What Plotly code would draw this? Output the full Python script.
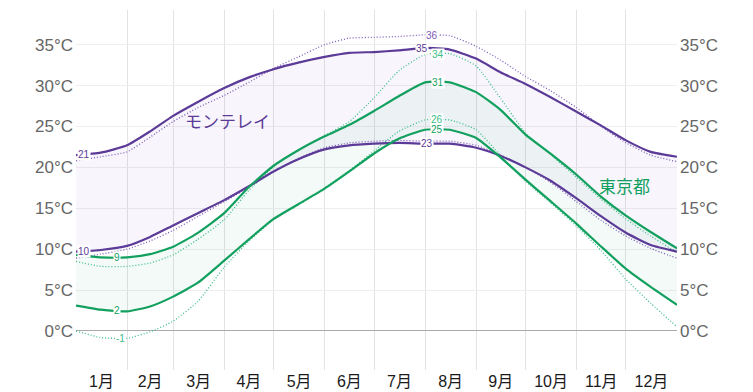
import numpy as np
import plotly.graph_objects as go

# day-of-year sample points
days = [0, 15, 31, 45, 59, 74, 90, 105, 120, 135, 151, 166, 181, 196, 212, 227, 243, 258, 273, 288, 304, 319, 334, 349, 365]

# Monterrey (モンテレイ)
mty_high = [21.5, 21.8, 22.7, 24.4, 26.3, 28.0, 29.7, 31.0, 32.0, 32.8, 33.5, 34.0, 34.1, 34.3, 34.6, 34.4, 33.3, 31.6, 30.2, 28.6, 26.8, 25.1, 23.3, 21.9, 21.3]
mty_low = [9.7, 9.9, 10.4, 11.5, 12.9, 14.4, 16.0, 17.7, 19.5, 21.0, 22.2, 22.7, 22.9, 23.0, 22.9, 22.9, 22.4, 21.4, 20.0, 18.4, 16.2, 14.0, 12.0, 10.5, 9.7]
mty_feel_high = [20.8, 21.3, 21.9, 23.7, 25.6, 27.3, 28.8, 30.4, 32.1, 33.5, 35.0, 35.8, 35.9, 36.0, 36.2, 36.1, 34.8, 33.1, 31.1, 29.4, 27.3, 25.0, 23.0, 21.5, 20.7]
mty_feel_low = [8.9, 9.4, 10.0, 11.0, 12.3, 14.0, 15.8, 17.6, 19.5, 21.1, 22.4, 23.0, 23.2, 23.3, 23.2, 23.2, 22.7, 21.5, 20.0, 18.2, 15.8, 13.5, 11.6, 10.1, 8.9]

# Tokyo (東京都)
tky_high = [9.3, 9.0, 9.0, 9.4, 10.3, 12.0, 14.4, 17.6, 20.2, 22.1, 23.8, 25.2, 26.9, 28.7, 30.4, 30.4, 29.2, 27.0, 24.0, 21.7, 19.1, 16.4, 14.1, 12.1, 10.1]
tky_low = [3.1, 2.6, 2.4, 3.0, 4.2, 5.9, 8.6, 11.2, 13.7, 15.5, 17.4, 19.5, 21.7, 23.5, 24.6, 24.6, 23.6, 21.2, 18.5, 15.9, 13.1, 10.3, 7.6, 5.4, 3.2]
tky_feel_high = [8.5, 7.9, 7.9, 8.3, 9.3, 11.2, 13.6, 17.2, 20.1, 22.1, 23.9, 25.6, 28.5, 31.8, 33.8, 33.9, 32.4, 28.4, 24.2, 21.6, 18.8, 16.1, 13.7, 11.6, 9.6]
tky_feel_low = [0.0, -0.8, -0.9, -0.1, 1.2, 3.6, 7.8, 11.0, 13.6, 15.4, 17.5, 19.6, 22.0, 24.4, 25.8, 25.8, 24.6, 21.4, 18.3, 15.7, 12.8, 9.8, 6.3, 3.4, 0.5]

month_labels = ["1月", "2月", "3月", "4月", "5月", "6月", "7月", "8月", "9月", "10月", "11月", "12月"]
month_starts = [0, 31, 59, 90, 120, 151, 181, 212, 243, 273, 304, 334, 365]
y_ticks = [0, 5, 10, 15, 20, 25, 30, 35]

# value labels: (series, day, text)
label_days_texts = [
    ("mty_high", 5, "21"), ("mty_low", 5, "10"),
    ("tky_high", 25, "9"), ("tky_low", 25, "2"), ("tky_feel_low", 27, "-1"),
    ("mty_feel_high", 216, "36"), ("mty_high", 210, "35"), ("tky_feel_high", 220, "34"),
    ("tky_high", 220, "31"), ("tky_feel_low", 219, "26"), ("tky_low", 219, "25"),
    ("mty_low", 213, "23"),
]

PURPLE = "#5c3a98"
PURPLE_LIGHT = "#7d5bb8"
GREEN = "#12a05f"
GREEN_LIGHT = "#3cbf86"

series = {
    "mty_high": mty_high, "mty_low": mty_low,
    "mty_feel_high": mty_feel_high, "mty_feel_low": mty_feel_low,
    "tky_high": tky_high, "tky_low": tky_low,
    "tky_feel_high": tky_feel_high, "tky_feel_low": tky_feel_low,
}
colors = {
    "mty_high": PURPLE, "mty_low": PURPLE, "mty_feel_high": PURPLE_LIGHT, "mty_feel_low": PURPLE_LIGHT,
    "tky_high": GREEN, "tky_low": GREEN, "tky_feel_high": GREEN_LIGHT, "tky_feel_low": GREEN_LIGHT,
}

fig = go.Figure()
sm = 0.5
# fills
fig.add_trace(go.Scatter(x=days, y=mty_low, mode="lines", line=dict(width=0, shape="spline", smoothing=sm),
                         hoverinfo="skip", showlegend=False))
fig.add_trace(go.Scatter(x=days, y=mty_high, mode="lines", line=dict(width=0, shape="spline", smoothing=sm),
                         fill="tonexty", fillcolor="rgba(120,80,200,0.05)", hoverinfo="skip", showlegend=False))
fig.add_trace(go.Scatter(x=days, y=tky_low, mode="lines", line=dict(width=0, shape="spline", smoothing=sm),
                         hoverinfo="skip", showlegend=False))
fig.add_trace(go.Scatter(x=days, y=tky_high, mode="lines", line=dict(width=0, shape="spline", smoothing=sm),
                         fill="tonexty", fillcolor="rgba(20,160,100,0.05)", hoverinfo="skip", showlegend=False))

# dotted lines
for k in ["mty_feel_high", "mty_feel_low", "tky_feel_high", "tky_feel_low"]:
    fig.add_trace(go.Scatter(x=days, y=series[k], mode="lines",
                             line=dict(color=colors[k], width=1.3, dash="1px,2px", shape="spline", smoothing=sm),
                             hoverinfo="skip", showlegend=False))
# solid lines
for k in ["mty_low", "mty_high", "tky_low", "tky_high"]:
    fig.add_trace(go.Scatter(x=days, y=series[k], mode="lines",
                             line=dict(color=colors[k], width=2.2, shape="spline", smoothing=sm),
                             hoverinfo="skip", showlegend=False))

# invisible trace for right axis
fig.add_trace(go.Scatter(x=[days[0]], y=[mty_low[0]], yaxis="y2", mode="markers", marker=dict(opacity=0),
                         hoverinfo="skip", showlegend=False))

annotations = []
for k, d, t in label_days_texts:
    yv = float(np.interp(d, days, series[k]))
    annotations.append(dict(x=d, y=yv, xref="x", yref="y", text=t, showarrow=False,
                            font=dict(size=10, color=colors[k], family="Liberation Sans, Arial, sans-serif"),
                            bgcolor="white", borderpad=0, xanchor="center", yanchor="middle"))

annotations.append(dict(x=92, y=25.7, xref="x", yref="y", text="モンテレイ", showarrow=False,
                        font=dict(size=17, color=PURPLE, family="Noto Sans CJK JP"),
                        xanchor="center", yanchor="middle"))
annotations.append(dict(x=333, y=17.8, xref="x", yref="y", text="東京都", showarrow=False,
                        font=dict(size=17, color=GREEN, family="Noto Sans CJK JP"),
                        xanchor="center", yanchor="middle"))

month_mids = [(month_starts[i] + month_starts[i + 1]) / 2 for i in range(12)]
y_text = [f"{v}°C" for v in y_ticks]

fig.update_layout(
    width=753, height=392,
    margin=dict(l=68, r=84, t=2, b=30, autoexpand=False),
    paper_bgcolor="white", plot_bgcolor="white",
    font=dict(family="Liberation Sans, Noto Sans CJK JP, sans-serif"),
    showlegend=False, hovermode=False,
    annotations=annotations,
    xaxis=dict(
        range=[0, 365], tickmode="array", tickvals=month_mids, ticktext=month_labels,
        showgrid=False, zeroline=False, showline=False, ticks="", automargin=False,
        tickfont=dict(size=16, color="#1a1a1a", family="Liberation Sans, Noto Sans CJK JP"),
        minor=dict(tickmode="array", tickvals=month_starts[1:-1], showgrid=True,
                   gridcolor="#e3e3e3", gridwidth=1, ticks=""),
        fixedrange=True,
    ),
    yaxis=dict(
        range=[-4.77, 39.24], tickmode="array", tickvals=y_ticks, ticktext=y_text,
        showgrid=True, gridcolor="#eeeeee", gridwidth=1, automargin=False,
        zeroline=True, zerolinecolor="#aaaaaa", zerolinewidth=1, ticklabelstandoff=2,
        tickfont=dict(size=17, color="#666"), ticks="", showline=False, fixedrange=True,
    ),
    yaxis2=dict(
        range=[-4.77, 39.24], overlaying="y", side="right", matches="y", automargin=False,
        tickmode="array", tickvals=y_ticks, ticktext=y_text, ticklabelstandoff=2,
        showgrid=False, zeroline=False, tickfont=dict(size=17, color="#666"),
        ticks="", showline=False, fixedrange=True,
    ),
)

fig.write_html("out.html")
